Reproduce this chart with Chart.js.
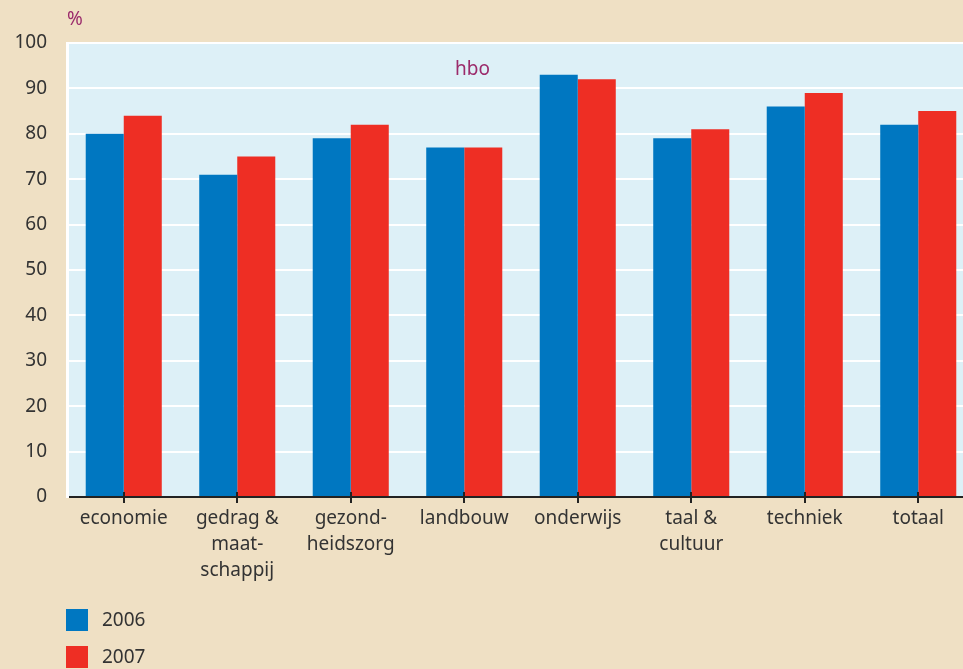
<!DOCTYPE html>
<html lang="nl">
  <head>
    <meta charset="UTF-8" />
    <script src="https://cdn.jsdelivr.net/npm/chart.js@4"></script>
    <title>hbo</title>
    <style>
      html, body {
        margin: 0;
        padding: 0;
        overflow: hidden;
        background: #efe0c4;
      }
      #wrap {
        width: 975px;
        height: 669px;
      }
    </style>
  </head>
  <body>
    <div id="wrap"><canvas id="myChart" width="975" height="669"></canvas></div>

    <script>
      const categories = [
        "economie",
        ["gedrag &", "maat-", "schappij"],
        ["gezond-", "heidszorg"],
        "landbouw",
        "onderwijs",
        ["taal &", "cultuur"],
        "techniek",
        "totaal"
      ];
      const years = ["2006", "2007"];
      const values2006 = [80, 71, 79, 77, 93, 79, 86, 82];
      const values2007 = [84, 75, 82, 77, 92, 81, 89, 85];

      const textColor = "#333333";
      const accent = "#9b2b6b";
      const fontFamily = "'Noto Sans', 'DejaVu Sans', sans-serif";

      // background, labels and a vertical legend
      const decor = {
        id: "decor",
        beforeDraw(chart) {
          const { ctx, chartArea } = chart;
          ctx.save();
          ctx.fillStyle = "#efe0c4";
          ctx.fillRect(0, 0, chart.width, chart.height);
          ctx.fillStyle = "#ddf0f7";
          ctx.fillRect(chartArea.left, chartArea.top,
            chartArea.right - chartArea.left, chartArea.bottom - chartArea.top);
          ctx.restore();
        },
        afterDraw(chart) {
          const { ctx, chartArea } = chart;
          ctx.save();
          ctx.font = "19px " + fontFamily;
          ctx.fillStyle = accent;
          ctx.textBaseline = "middle";
          ctx.textAlign = "left";
          ctx.fillText("%", 67, 20);
          ctx.fillText("hbo", 455, 70);

          // small tick marks crossing the x axis
          const xs = chart.scales.x;
          ctx.strokeStyle = "#222222";
          ctx.lineWidth = 2;
          categories.forEach((c, i) => {
            const x = Math.round(xs.getPixelForTick(i));
            ctx.beginPath();
            ctx.moveTo(x, chartArea.bottom - 5);
            ctx.lineTo(x, chartArea.bottom + 6);
            ctx.stroke();
          });

          chart.data.datasets.forEach((ds, i) => {
            const y = 609 + i * 37;
            ctx.fillStyle = ds.backgroundColor;
            ctx.fillRect(66, y, 22, 22);
            ctx.fillStyle = textColor;
            ctx.fillText(ds.label, 102, y + 12);
          });
          ctx.restore();
        }
      };

      const ctx = document.getElementById("myChart").getContext("2d");
      const myChart = new Chart(ctx, {
        type: "bar",
        data: {
          labels: categories,
          datasets: [
            {
              label: years[0],
              data: values2006,
              backgroundColor: "#0077c1",
              categoryPercentage: 0.67,
              barPercentage: 1.0
            },
            {
              label: years[1],
              data: values2007,
              backgroundColor: "#ee2e24",
              categoryPercentage: 0.67,
              barPercentage: 1.0
            }
          ]
        },
        options: {
          responsive: false,
          animation: false,
          layout: { padding: { top: 43, right: 0, left: 0, bottom: 0 } },
          plugins: {
            legend: { display: false },
            tooltip: { enabled: false }
          },
          scales: {
            x: {
              grid: {
                offset: false,
                drawOnChartArea: false,
                drawTicks: true,
                tickLength: 7,
                tickColor: "rgba(0,0,0,0)"
              },
              border: { color: "#222222", width: 2 },
              ticks: {
                color: textColor,
                font: { family: fontFamily, size: 19, lineHeight: 1.37 },
                padding: 2,
                maxRotation: 0,
                autoSkip: false
              },
              afterFit(scale) {
                scale.height = 172;
              }
            },
            y: {
              min: 0,
              max: 100,
              grid: {
                color: "#ffffff",
                lineWidth: 2,
                drawTicks: false
              },
              border: { color: "#ffffff", width: 3 },
              ticks: {
                stepSize: 10,
                color: textColor,
                font: { family: fontFamily, size: 19 },
                padding: 20
              },
              afterFit(scale) {
                scale.width = 67;
              }
            }
          }
        },
        plugins: [decor]
      });
    </script>
  </body>
</html>
